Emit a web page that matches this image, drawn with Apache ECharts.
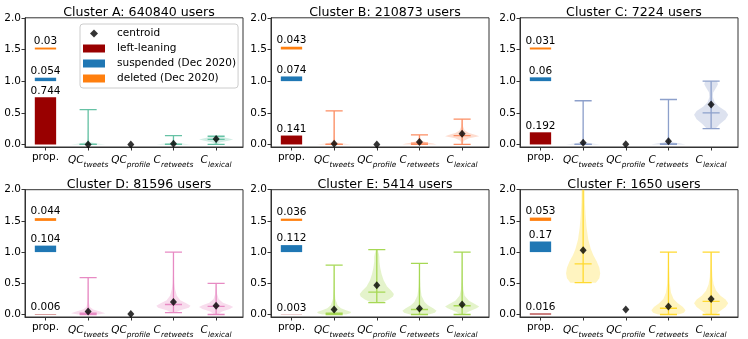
<!DOCTYPE html>
<html><head><meta charset="utf-8">
<script src="https://cdn.jsdelivr.net/npm/echarts@6/dist/echarts.min.js"></script>
<style>html,body{margin:0;padding:0;background:#fff}#c{width:748px;height:339px}</style>
</head><body><div id="c"></div>
<script>
const titles = ['Cluster A: 640840 users','Cluster B: 210873 users','Cluster C: 7224 users','Cluster D: 81596 users','Cluster E: 5414 users','Cluster F: 1650 users'];
const xLabels = ['prop.','{m|QC}{s|tweets}','{m|QC}{s|profile}','{m|C}{s|retweets}','{m|C}{s|lexical}'];
const yTicks = [0, 0.5, 1.0, 1.5, 2.0];
const leftLeaning = [0.744, 0.141, 0.192, 0.006, 0.003, 0.016];
const suspended = [0.054, 0.074, 0.06, 0.104, 0.112, 0.17];
const deleted = [0.03, 0.043, 0.031, 0.044, 0.036, 0.053];
const violinColors = ['#66c2a5','#fc8d62','#8da0cb','#e78ac3','#a6d854','#ffd92f'];
// centroid per variable (QC_tweets, QC_profile, C_retweets, C_lexical)
const centroids = [
  [0.0, 0.0, 0.01, 0.085],
  [0.01, 0.0, 0.04, 0.17],
  [0.026, 0.005, 0.05, 0.63],
  [0.05, 0.01, 0.2, 0.14],
  [0.08, 0.47, 0.095, 0.16],
  [1.03, 0.08, 0.13, 0.25]
];
const vMin = [[0,null,0,0],[0,null,0,0],[0,null,0,0.25],[0,null,0.03,0],[0,0.19,0,0],[0.51,null,0,0]];
const vMax = [[0.55,null,0.14,0.13],[0.53,null,0.15,0.4],[0.69,null,0.71,1.0],[0.59,null,1.0,0.5],[0.79,1.04,0.82,1.0],[2.6,null,1.0,1.0]];
const vMed = [[0,null,0,0.08],[0,null,0.02,0.14],[0,null,0.01,0.5],[0.02,null,0.16,0.13],[0.02,0.36,0.08,0.14],[0.81,null,0.1,0.21]];
// density profiles: [y, relative half-width]
const shapeA = [
  [[0,1],[0.015,0.5],[0.04,0.08],[0.1,0.03],[0.3,0.015],[0.55,0.01]],
  null,
  [[0,1],[0.01,0.6],[0.03,0.1],[0.08,0.03],[0.14,0.01]],
  [[0,0.05],[0.03,0.2],[0.06,0.7],[0.08,1],[0.1,0.7],[0.12,0.3],[0.13,0.1]]
];
const shapeB = [
  [[0,1],[0.015,0.5],[0.04,0.08],[0.1,0.03],[0.3,0.015],[0.53,0.01]],
  null,
  [[0,1],[0.015,0.8],[0.03,0.4],[0.06,0.15],[0.1,0.05],[0.15,0.02]],
  [[0,0.02],[0.06,0.1],[0.1,0.4],[0.13,1],[0.15,0.8],[0.18,0.4],[0.22,0.15],[0.28,0.06],[0.34,0.03],[0.4,0.01]]
];
const shapeC = [
  [[0,1],[0.015,0.5],[0.04,0.08],[0.1,0.03],[0.3,0.015],[0.69,0.01]],
  null,
  [[0,1],[0.015,0.7],[0.03,0.3],[0.06,0.08],[0.15,0.03],[0.4,0.015],[0.71,0.01]],
  [[0.25,0.25],[0.32,0.5],[0.4,0.85],[0.47,1],[0.53,0.85],[0.6,0.45],[0.67,0.2],[0.75,0.1],[0.82,0.12],[0.9,0.3],[0.95,0.4],[1.0,0.35]]
];
const shapeD = [
  [[0,0.6],[0.02,1],[0.05,0.7],[0.08,0.3],[0.12,0.1],[0.2,0.04],[0.4,0.02],[0.59,0.01]],
  null,
  [[0.03,0.1],[0.07,0.4],[0.11,0.9],[0.14,1],[0.18,0.75],[0.23,0.4],[0.3,0.2],[0.4,0.1],[0.5,0.05],[0.7,0.02],[1.0,0.01]],
  [[0,0.1],[0.05,0.35],[0.09,0.8],[0.12,1],[0.15,0.8],[0.19,0.4],[0.25,0.15],[0.33,0.06],[0.42,0.03],[0.5,0.01]]
];
const shapeE = [
  [[0,0.7],[0.02,0.95],[0.04,1],[0.07,0.7],[0.1,0.4],[0.15,0.2],[0.25,0.07],[0.4,0.03],[0.6,0.015],[0.79,0.01]],
  [[0.19,0.3],[0.24,0.7],[0.29,0.95],[0.33,1],[0.38,0.85],[0.45,0.6],[0.55,0.4],[0.65,0.28],[0.75,0.2],[0.85,0.15],[0.92,0.15],[0.97,0.12],[1.04,0.05]],
  [[0,0.55],[0.03,0.9],[0.06,1],[0.1,0.8],[0.15,0.5],[0.2,0.3],[0.3,0.12],[0.45,0.05],[0.6,0.03],[0.82,0.01]],
  [[0,0.1],[0.05,0.4],[0.1,0.85],[0.13,1],[0.17,0.75],[0.22,0.4],[0.3,0.15],[0.4,0.07],[0.55,0.04],[0.75,0.02],[1.0,0.01]]
];
const shapeF = [
  [[0.51,0.75],[0.58,0.95],[0.66,1],[0.75,0.95],[0.85,0.8],[0.95,0.6],[1.05,0.45],[1.2,0.3],[1.4,0.2],[1.6,0.14],[1.8,0.1],[2.0,0.09],[2.3,0.04],[2.6,0.01]],
  null,
  [[0,0.6],[0.03,0.9],[0.07,1],[0.12,0.85],[0.18,0.55],[0.25,0.3],[0.35,0.15],[0.5,0.07],[0.7,0.04],[1.0,0.02]],
  [[0,0.25],[0.06,0.55],[0.12,0.85],[0.18,1],[0.24,0.85],[0.3,0.55],[0.38,0.3],[0.48,0.15],[0.6,0.08],[0.8,0.04],[1.0,0.02]]
];
const shapes = [shapeA, shapeB, shapeC, shapeD, shapeE, shapeF];

const FONT = 'DejaVu Sans';
const colLeft = [25, 271, 520];
const gridW = 218;
const rowTop = [17.8, 189.7];
const rowH = [129.2, 128.5];
const XMIN = -0.48, XMAX = 4.63, YMIN = -0.04, YMAX = 2.0;
const BAR_HALF = 0.25;
const SUSP_BASE = 1.0, DEL_BASE = 1.5;
const barPx = gridW / (XMAX - XMIN) * BAR_HALF * 2;

const chart = echarts.init(document.getElementById('c'), null, {renderer: 'canvas'});
const grid = [], xAxis = [], yAxis = [], series = [], title = [];

function makeRender(p) {
  return function (params, api) {
    const pos = api.value(0), mn = api.value(1), mx = api.value(2), md = api.value(3);
    const shape = shapes[p][pos - 1];
    const half = 0.4, c = violinColors[p];
    const right = [], left = [];
    shape.forEach(function (s) {
      right.push(api.coord([pos + s[1] * half, s[0]]));
      left.unshift(api.coord([pos - s[1] * half, s[0]]));
    });
    const line = function (x1, y1, x2, y2) {
      const a = api.coord([x1, y1]), b = api.coord([x2, y2]);
      return {type: 'line', shape: {x1: a[0], y1: a[1], x2: b[0], y2: b[1]}, style: {stroke: c, lineWidth: 1.3}};
    };
    return {type: 'group', children: [
      {type: 'polygon', shape: {points: right.concat(left)}, style: {fill: c, opacity: 0.3}},
      line(pos, mn, pos, mx),
      line(pos - 0.2, mn, pos + 0.2, mn),
      line(pos - 0.2, mx, pos + 0.2, mx),
      line(pos - 0.2, md, pos + 0.2, md)
    ]};
  };
}

function floatBar(color) {
  return function (params, api) {
    const x = api.value(0), base = api.value(1), v = api.value(2);
    const a = api.coord([x - BAR_HALF, base + v]), b = api.coord([x + BAR_HALF, base]);
    const top = api.coord([x, base + v]);
    return {type: 'group', children: [
      {type: 'rect', shape: {x: a[0], y: a[1], width: b[0] - a[0], height: b[1] - a[1]}, style: {fill: color}},
      {type: 'text', x: top[0], y: top[1] - 1, style: {text: String(v), fill: '#000', font: '10.5px "DejaVu Sans"', align: 'center', verticalAlign: 'bottom'}}
    ]};
  };
}

for (let p = 0; p < 6; p++) {
  const r = Math.floor(p / 3), c = p % 3;
  grid.push({left: colLeft[c], top: rowTop[r], width: gridW, height: rowH[r], show: true, borderColor: '#333', borderWidth: 1, backgroundColor: 'transparent'});
  title.push({text: titles[p], left: colLeft[c] + gridW / 2, top: r === 0 ? 1.5 : 173.5, textAlign: 'center',
    textStyle: {fontFamily: FONT, fontSize: 12.6, fontWeight: 'normal', color: '#000'}});
  xAxis.push({type: 'value', gridIndex: p, min: XMIN, max: XMAX, splitLine: {show: false},
    axisLine: {show: true, onZero: false, lineStyle: {color: '#333'}},
    axisTick: {show: true, customValues: [0, 1, 2, 3, 4], length: 3.5, lineStyle: {color: '#333'}},
    axisLabel: {customValues: [0, 1, 2, 3, 4], margin: 5, color: '#000', fontFamily: FONT, fontSize: 10.5,
      formatter: function (v) { return xLabels[Math.round(v)]; },
      rich: {
        m: {fontFamily: FONT, fontStyle: 'italic', fontSize: 10.5, color: '#000', lineHeight: 17, verticalAlign: 'middle'},
        s: {fontFamily: FONT, fontStyle: 'italic', fontSize: 7.4, color: '#000', verticalAlign: 'bottom'}
      }}});
  yAxis.push({type: 'value', gridIndex: p, min: YMIN, max: YMAX, splitLine: {show: false},
    axisLine: {show: true, onZero: false, lineStyle: {color: '#333'}},
    axisTick: {show: true, customValues: yTicks, length: 3.5, lineStyle: {color: '#333'}},
    axisLabel: {customValues: yTicks, margin: 4, color: '#000', fontFamily: FONT, fontSize: 10.5,
      formatter: function (v) { return v.toFixed(1); }}});

  series.push({type: 'bar', name: 'left-leaning', xAxisIndex: p, yAxisIndex: p, barWidth: barPx,
    itemStyle: {color: '#990000'},
    label: {show: true, position: 'top', distance: 1, color: '#000', fontFamily: FONT, fontSize: 10.5},
    data: [[0, leftLeaning[p]]]});
  series.push({type: 'custom', name: 'suspended (Dec 2020)', xAxisIndex: p, yAxisIndex: p, itemStyle: {color: '#1f77b4'},
    renderItem: floatBar('#1f77b4'), encode: {x: 0, y: 1}, data: [[0, SUSP_BASE, suspended[p]]]});
  series.push({type: 'custom', name: 'deleted (Dec 2020)', xAxisIndex: p, yAxisIndex: p, itemStyle: {color: '#ff7f0e'},
    renderItem: floatBar('#ff7f0e'), encode: {x: 0, y: 1}, data: [[0, DEL_BASE, deleted[p]]]});

  const vdata = [];
  for (let k = 0; k < 4; k++) {
    if (shapes[p][k]) vdata.push([k + 1, vMin[p][k], vMax[p][k], vMed[p][k]]);
  }
  series.push({type: 'custom', xAxisIndex: p, yAxisIndex: p, clip: true, renderItem: makeRender(p),
    encode: {x: 0, y: [1, 2, 3]}, data: vdata, z: 3});
  series.push({type: 'scatter', name: 'centroid', xAxisIndex: p, yAxisIndex: p, symbol: 'diamond', symbolSize: [7, 8],
    itemStyle: {color: '#000'}, z: 5, data: centroids[p].map(function (v, k) { return [k + 1, v]; })});
}

chart.setOption({
  animation: false,
  textStyle: {fontFamily: FONT},
  title: title, grid: grid, xAxis: xAxis, yAxis: yAxis, series: series,
  legend: {
    left: 80, top: 24, orient: 'vertical', itemWidth: 22, itemHeight: 8, itemGap: 4,
    padding: [4, 2, 4, 3], backgroundColor: 'rgba(255,255,255,0.8)', borderColor: '#ccc', borderWidth: 1, borderRadius: 3,
    textStyle: {fontFamily: FONT, fontSize: 10.5, color: '#000', padding: [0, 0, 0, 7]},
    selectedMode: false,
    data: [
      {name: 'centroid', icon: 'path://M0,0M22,8M11,0L15,4L11,8L7,4Z'},
      {name: 'left-leaning', icon: 'rect'},
      {name: 'suspended (Dec 2020)', icon: 'rect'},
      {name: 'deleted (Dec 2020)', icon: 'rect'}
    ]
  }
});
</script>
</body></html>
